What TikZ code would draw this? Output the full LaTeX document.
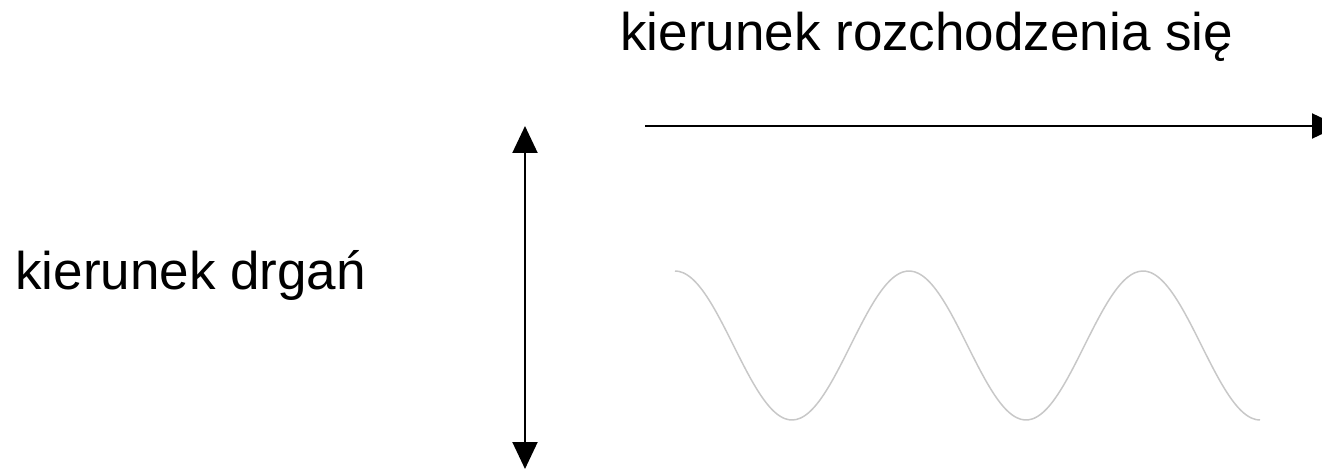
\documentclass[tikz,border=0pt]{standalone}
\usepackage{fontspec}
\setmainfont{Liberation Sans}
\usepackage{tikz}
\usetikzlibrary{positioning,arrows.meta}
\usepackage{xcolor}
\definecolor{wavegray}{HTML}{C8C8C8}

\begin{document}
\begin{tikzpicture}[
    x=0.5pt, y=-0.5pt,
    lbl/.style={inner sep=0pt, anchor=base west, font=\fontsize{26.5}{30}\selectfont},
    arr/.style={line width=1pt, -{Triangle[length=13.5pt, width=12.5pt]}},
    dbl/.style={arr, {Triangle[length=13.5pt, width=12.5pt]}-{Triangle[length=13.5pt, width=12.5pt]}},
    wave/.style={wavegray, line width=0.75pt},
  ]
    \useasboundingbox (0,0) rectangle (1322,470);
    \node[lbl] (prop) at (620,51)  {kierunek rozchodzenia się};
    \node[lbl] (osc)  at (15,290)  {kierunek drgań};
    \coordinate (hs) at (645,126);
    \coordinate (he) at (1339,126);
    \coordinate (vs) at (525,126);
    \coordinate (ve) at (525,469);
    \draw[arr] (hs) -- (he);
    \draw[dbl] (vs) -- (ve);
    % fala
    \draw[wave] plot[domain=0:585, samples=150, smooth] ({\x+675}, {345.5-74.5*cos(\x/234*360)});
\end{tikzpicture}
\end{document}
